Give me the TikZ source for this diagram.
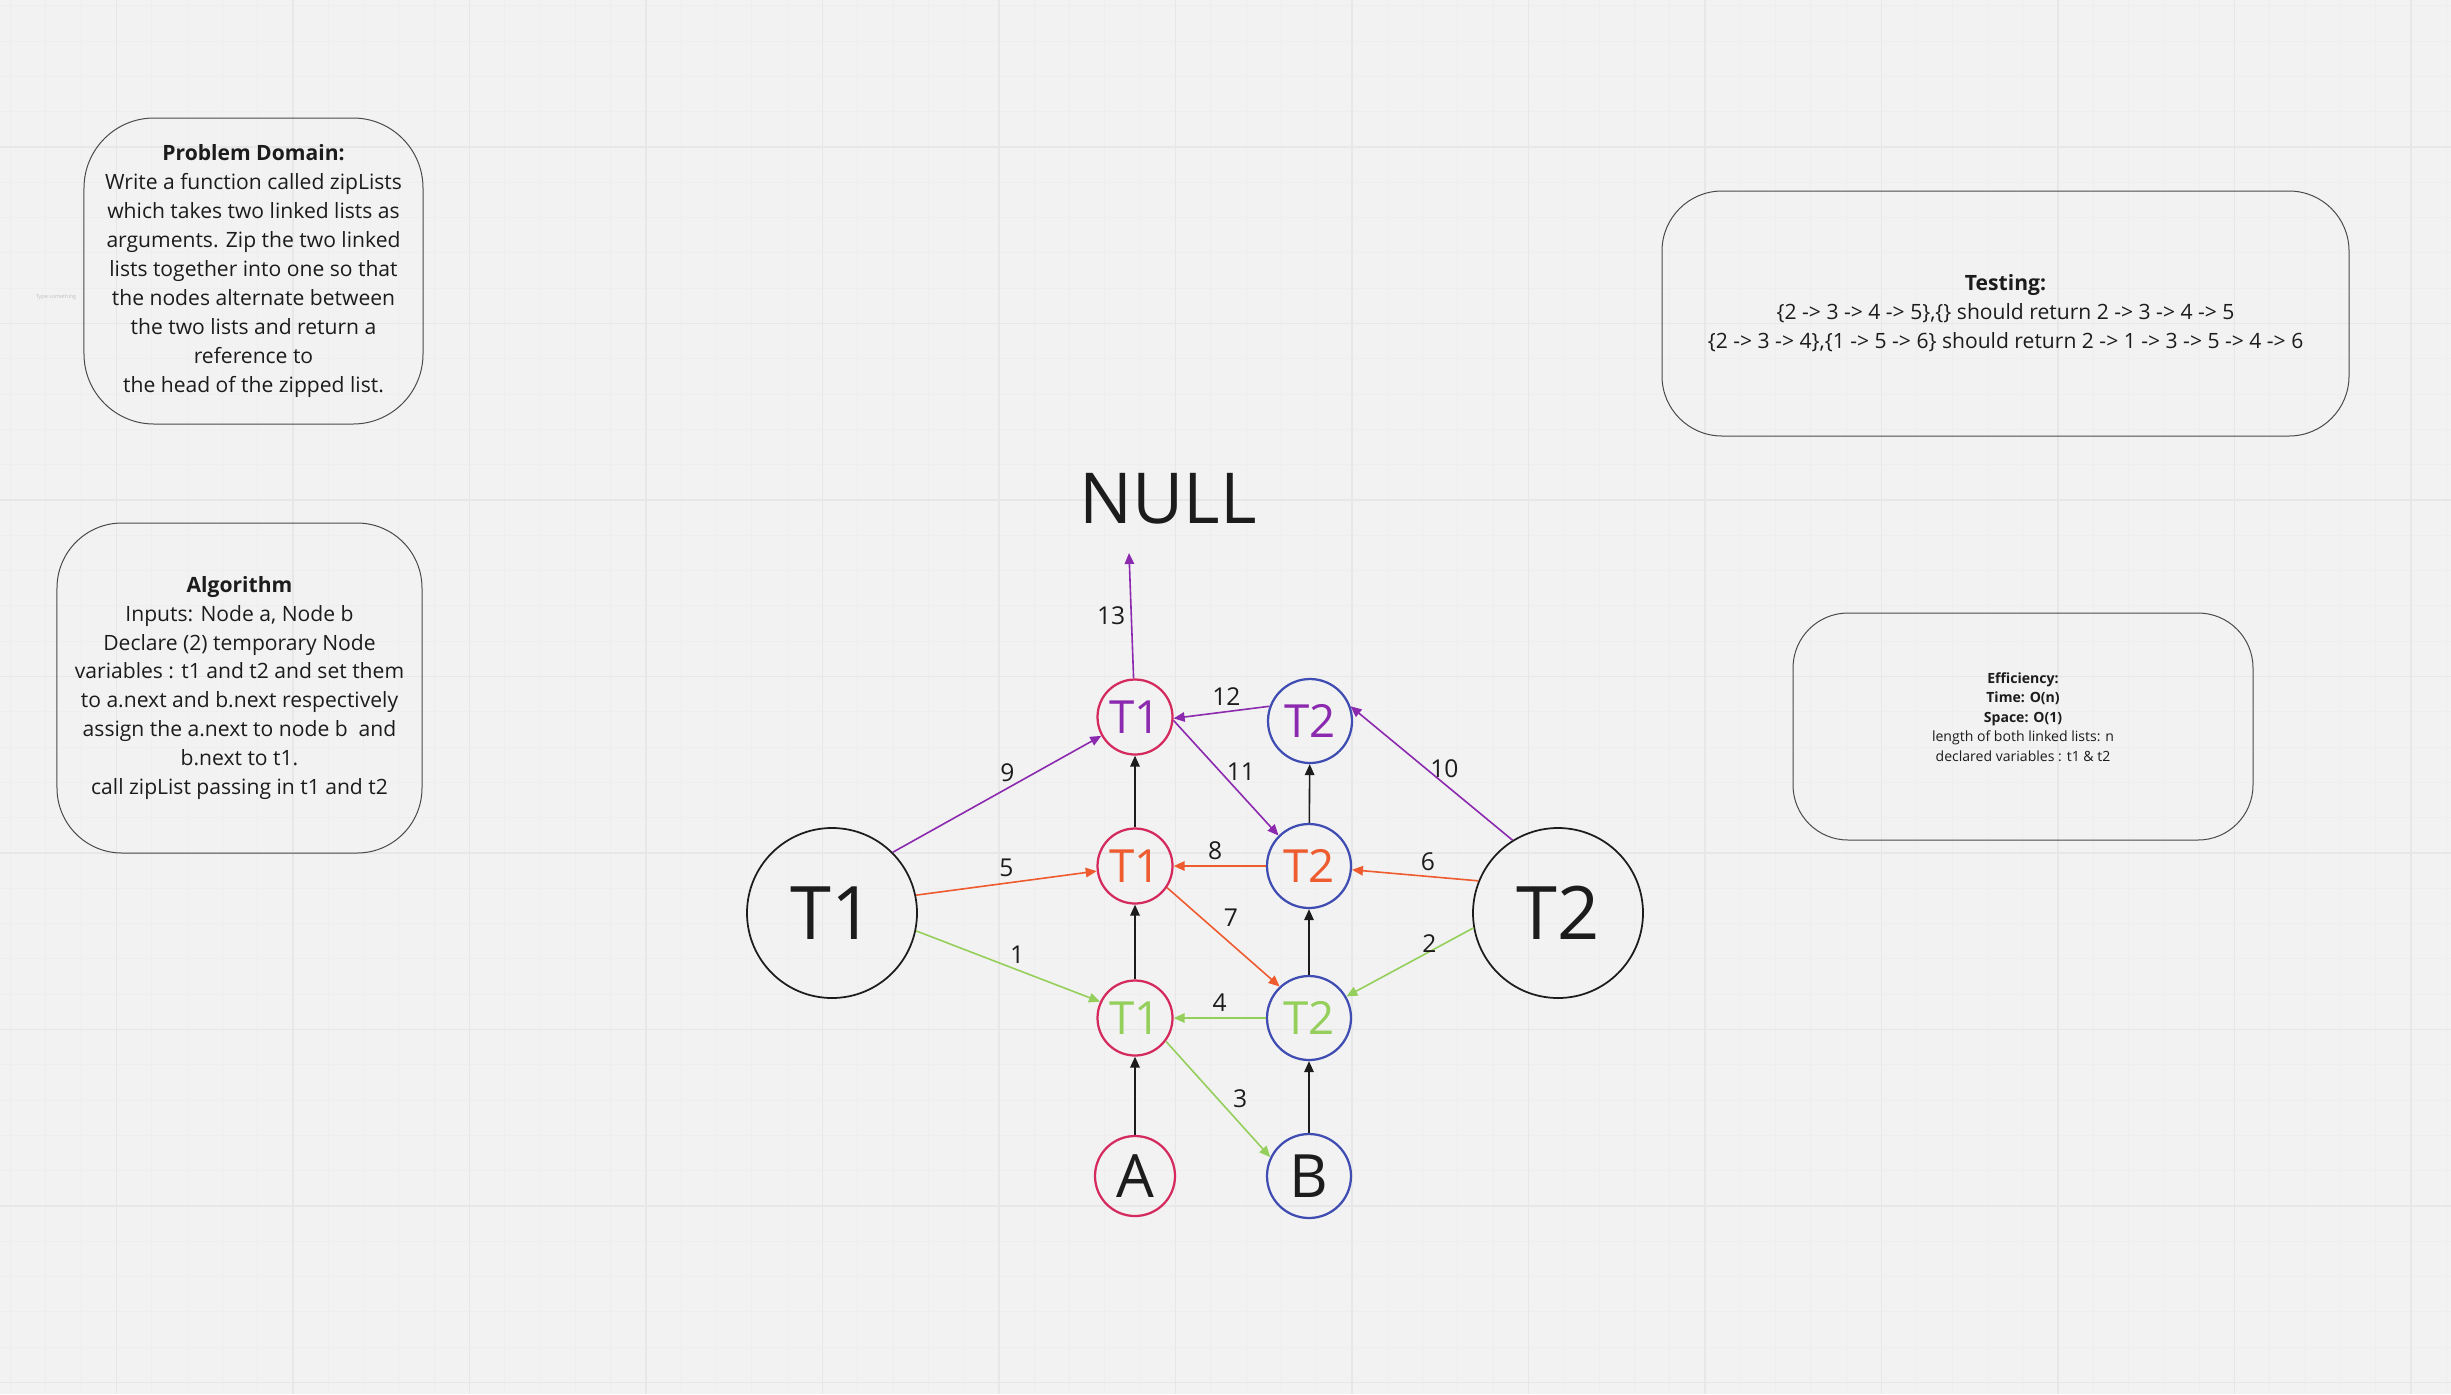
\documentclass[tikz,border=0pt]{standalone}
\usepackage{fontspec}
\setmainfont{Open Sans}
\usepackage{xcolor}
\usepackage{tikz}
\usetikzlibrary{arrows.meta}

\definecolor{canvas}{HTML}{F2F2F2}
\definecolor{gridminor}{HTML}{EEEEEE}
\definecolor{gridmajor}{HTML}{E7E7E7}
\definecolor{framegray}{HTML}{4A4A4A}
\definecolor{ink}{HTML}{1C1C1C}
\definecolor{headpink}{HTML}{D42A5E}
\definecolor{headblue}{HTML}{3F4DB3}
\definecolor{passgreen}{HTML}{95CF5B}
\definecolor{passorange}{HTML}{EE5B2F}
\definecolor{passpurple}{HTML}{8B2AAE}

\begin{document}
\begin{tikzpicture}[
  x=0.2mm, y=-0.2mm,
  card/.style  ={draw=framegray, line width=0.2mm, align=center, text=ink,
                 font=\fontsize{12}{16.5}\selectfont, inner sep=0pt},
  ptr/.style   ={circle, line width=0.45mm, inner sep=0pt,
                 font=\fontsize{26}{26}\selectfont},
  tnode/.style ={ptr, draw=headpink, minimum size=15mm},
  unode/.style ={ptr, draw=headblue, minimum size=16.8mm},
  big/.style   ={circle, draw=ink, line width=0.35mm, inner sep=0pt,
                 minimum size=34mm, text=ink, font=\fontsize{42}{42}\selectfont},
  num/.style   ={font=\fontsize{14}{14}\selectfont, text=ink, inner sep=3pt},
  link/.style  ={-{Triangle[length=2.2mm,width=1.9mm]}, line width=0.32mm},
  nx/.style    ={link, draw=ink},
  roundA/.style={link, draw=passgreen},
  roundB/.style={link, draw=passorange},
  roundC/.style={link, draw=passpurple},
]

% ---------------- board background -------------------------------------
\useasboundingbox (0,0) rectangle (2451,1394);
\fill[canvas] (0,0) rectangle (2451,1394);
\foreach \k in {0,...,69}
  \draw[gridminor, line width=0.2mm] ({10.6+35.3*\k},0) -- ++(0,1394);
\foreach \k in {0,...,39}
  \draw[gridminor, line width=0.2mm] (0,{5.8+35.3*\k}) -- ++(2451,0);
\foreach \k in {0,...,13}
  \draw[gridmajor, line width=0.25mm] ({116.5+176.5*\k},0) -- ++(0,1394);
\foreach \k in {0,...,7}
  \draw[gridmajor, line width=0.25mm] (0,{147+176.5*\k}) -- ++(2451,0);

\node[font=\fontsize{3.1}{4}\selectfont, text=black!25] (hint) at (56,297) {Type something};

% ---------------- note cards -------------------------------------------
\node[card, minimum width=67.8mm, minimum height=61.2mm, rounded corners=14mm]
  (dom) at (253.5,271)
  {\textbf{Problem Domain:}\\Write a function called zipLists\\which takes two linked lists as\\
   arguments. Zip the two linked\\lists together into one so that\\the nodes alternate between\\
   the two lists and return a\\reference to\\the head of the zipped list.};

\node[card, minimum width=73mm, minimum height=66mm, rounded corners=13mm]
  (alg) at (239.5,688)
  {\textbf{Algorithm}\\Inputs: Node a, Node b\\Declare (2) temporary Node\\
   variables : t1 and t2 and set them\\to a.next and b.next respectively\\
   assign the a.next to node b\ \ and\\b.next to t1.\\call zipList passing in t1 and t2};

\node[card, minimum width=137.4mm, minimum height=49mm, rounded corners=12mm]
  (tst) at (2005.5,313.5)
  {\textbf{Testing:}\\\{2 -> 3 -> 4 -> 5\},\{\} should return 2 -> 3 -> 4 -> 5\\
   \{2 -> 3 -> 4\},\{1 -> 5 -> 6\} should return 2 -> 1 -> 3 -> 5 -> 4 -> 6};

% text sits a little above the middle of this card
\node[card, minimum width=92mm, minimum height=45.4mm, rounded corners=11mm,
      font=\fontsize{8}{11.1}\selectfont]
  (eff) at (2023,726.5)
  {\textbf{Efficiency:}\\\textbf{Time: O(n)}\\\textbf{Space: O(1)}\\
   length of both linked lists: n\\declared variables : t1 \& t2\\\mbox{}};

% ---------------- list heads and the two cursors -----------------------
\node[big] (bigT1) at (832,913)  {T1};
\node[big] (bigT2) at (1558,913) {T2};

\node[tnode, minimum size=16mm, text=ink, font=\fontsize{34}{34}\selectfont]
  (a) at (1135,1176) {A};
\node[unode, text=ink, font=\fontsize{34}{34}\selectfont]
  (b) at (1309,1176) {B};

\node[tnode, text=passgreen]  (t1g) at (1135,1018) {T1};
\node[unode, text=passgreen]  (t2g) at (1309,1018) {T2};
\node[tnode, text=passorange] (t1o) at (1135,866)  {T1};
\node[unode, text=passorange] (t2o) at (1309,866)  {T2};
\node[tnode, text=passpurple] (t1p) at (1135,717)  {T1};
\node[unode, text=passpurple] (t2p) at (1310,721)  {T2};

\node[font=\fontsize{40}{40}\selectfont, text=ink] (null) at (1168,499) {NULL};
\coordinate (nulltip) at (1129,553);

% ---------------- next pointers ----------------------------------------
\draw[nx] (a)   -- (t1g);
\draw[nx] (t1g) -- (t1o);
\draw[nx] (t1o) -- (t1p);
\draw[nx] (b)   -- (t2g);
\draw[nx] (t2g) -- (t2o);
\draw[nx] (t2o) -- (t2p);

% ---------------- first call -------------------------------------------
\draw[roundA] (bigT1.-12)  -- node[num, above, pos=.55]{1} (t1g.155);
\draw[roundA] (bigT2.-170) -- node[num, above right, pos=.45]{2} (t2g.30);
\draw[roundA] (t1g.-37)    -- node[num, right, pos=.5, xshift=1.8mm]{3} (b.154);
\draw[roundA] (t2g)        -- node[num, above]{4} (t1g);

% ---------------- second call ------------------------------------------
\draw[roundB] (bigT1.12)   -- node[num, above]{5} (t1o);
\draw[roundB] (bigT2.158)  -- node[num, above, pos=.4]{6} (t2o);
\draw[roundB] (t1o.-34)    -- node[num, above right, pos=.45]{7} (t2g.133);
\draw[roundB] (t2o)        -- node[num, above, pos=.55]{8} (t1o);

% ---------------- third call -------------------------------------------
\draw[roundC] (bigT1.45)   -- node[num, above, pos=.55]{9} (t1p);
\draw[roundC] (bigT2.122)  -- node[num, above, pos=.42]{10} (t2p.20);
\draw[roundC] (t1p.-5)     -- node[num, right, pos=.45]{11} (t2o.135);
\draw[roundC] (t2p.160)    -- node[num, above, pos=.45]{12} (t1p.-2);
\draw[roundC] (t1p)        -- node[num, left]{13} (nulltip);

\end{tikzpicture}
\end{document}
